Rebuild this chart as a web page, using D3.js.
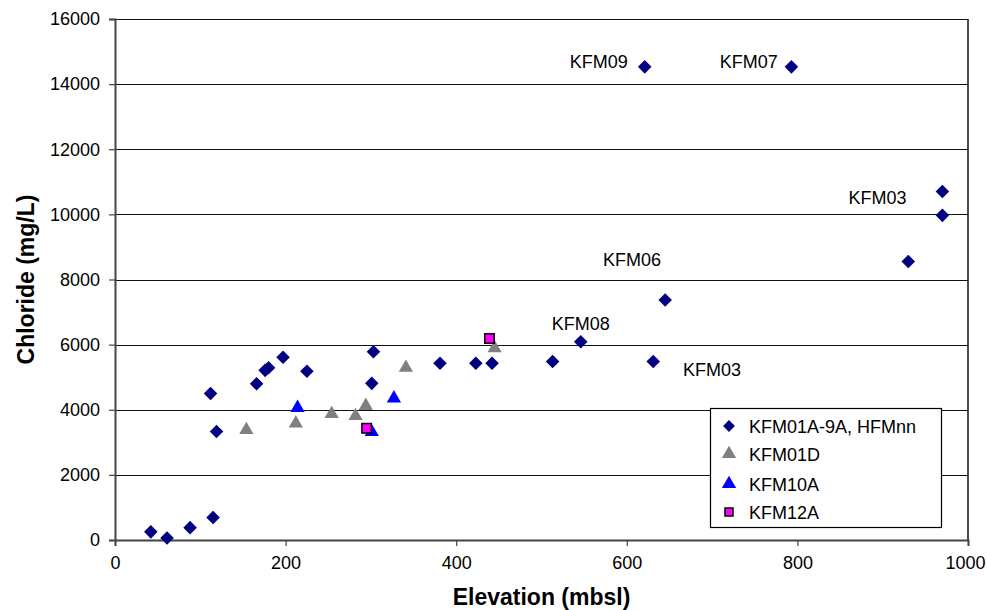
<!DOCTYPE html>
<html>
<head>
<meta charset="utf-8">
<script src="https://cdn.jsdelivr.net/npm/d3@7"></script>
<style>
    body { margin: 0; background: #fff; }
    text { font-family: Arial, "Liberation Sans", sans-serif; fill: #000; }
</style>
</head>
<body>
<div id="chart"></div>
<script>
// elevation (mbsl) / chloride (mg/L) per series
const kfmX = [42, 61, 88, 115, 112, 119, 166, 176, 180, 197, 225, 303, 301, 381, 423, 442, 513, 546, 631, 645, 970, 970, 930, 621, 793];
const kfmY = [250, 60, 380, 690, 4500, 3330, 4800, 5210, 5290, 5610, 5180, 5780, 4810, 5430, 5430, 5430, 5480, 6090, 5480, 7370, 10700, 9970, 8550, 14530, 14530];
const d01X = [154, 212, 254, 282, 294, 341, 445];
const d01Y = [3380, 3580, 3870, 3810, 4120, 5290, 5890];
const a10X = [214, 327, 301];
const a10Y = [4060, 4350, 3320];
const a12X = [295, 439];
const a12Y = [3430, 6190];

const labelText = ['KFM09', 'KFM07', 'KFM03', 'KFM06', 'KFM08', 'KFM03'];
const labelX = [533, 709, 860, 572, 512, 666];
const labelY = [14500, 14500, 10330, 8400, 6460, 5040];

const xTicks = [0, 200, 400, 600, 800, 1000];
const yTicks = [0, 2000, 4000, 6000, 8000, 10000, 12000, 14000, 16000];

const W = 987, H = 610;
const margin = {top: 19, right: 19, bottom: 70, left: 115};
const width = W - margin.left - margin.right;
const height = H - margin.top - margin.bottom;

const svg = d3.select('#chart').append('svg')
    .attr('width', W)
    .attr('height', H);

const g = svg.append('g')
    .attr('transform', 'translate(' + margin.left + ',' + margin.top + ')');

const x = d3.scaleLinear().domain([0, 1000]).range([0, width]);
const y = d3.scaleLinear().domain([0, 16000]).range([height, 0]);

// grid lines
g.append('g')
    .selectAll('line')
    .data(yTicks.filter(d => d > 0))
    .enter().append('line')
    .attr('x1', 0).attr('x2', width)
    .attr('y1', d => Math.round(y(d)) + 0.5).attr('y2', d => Math.round(y(d)) + 0.5)
    .attr('stroke', '#111')
    .attr('stroke-width', 1.2);

// right border
g.append('line')
    .attr('x1', width).attr('x2', width)
    .attr('y1', y(16000)).attr('y2', height)
    .attr('stroke', '#111')
    .attr('stroke-width', 1.5);

// axes
const xAxis = g.append('g')
    .attr('transform', 'translate(0,' + height + ')')
    .call(d3.axisBottom(x).tickValues(xTicks).tickFormat(d3.format('d')).tickSize(6).tickPadding(10));
const yAxis = g.append('g')
    .call(d3.axisLeft(y).tickValues(yTicks).tickFormat(d3.format('d')).tickSize(6).tickPadding(9));

[xAxis, yAxis].forEach(a => {
    a.select('.domain').attr('stroke', '#444').attr('stroke-width', 2);
    a.selectAll('.tick line').attr('stroke', '#444').attr('stroke-width', 1.2);
    a.selectAll('.tick text')
        .attr('font-size', 18)
        .attr('font-family', 'Arial, "Liberation Sans", sans-serif')
        .attr('fill', '#000');
});
// keep the last x label inside the page
xAxis.selectAll('.tick text').filter(d => d === 1000).attr('dx', -3);

// axis titles
svg.append('text')
    .attr('x', margin.left + width / 2)
    .attr('y', 605)
    .attr('text-anchor', 'middle')
    .attr('font-size', 23)
    .attr('font-weight', 'bold')
    .text('Elevation (mbsl)');

svg.append('text')
    .attr('transform', 'translate(34,' + (margin.top + height / 2) + ') rotate(-90)')
    .attr('text-anchor', 'middle')
    .attr('font-size', 23)
    .attr('font-weight', 'bold')
    .text('Chloride (mg/L)');

const diamond = d3.symbol().type(d3.symbolSquare).size(92);
const triangle = d3.symbol().type(d3.symbolTriangle).size(88);
const square = d3.symbol().type(d3.symbolSquare).size(90);

function drawSeries(xs, ys, sym, fill, stroke, rotate) {
    g.append('g')
        .selectAll('path')
        .data(xs.map((v, i) => ({x: v, y: ys[i]})))
        .enter().append('path')
        .attr('d', sym)
        .attr('transform', d => 'translate(' + x(d.x) + ',' + y(d.y) + ')' + (rotate ? ' rotate(45)' : ''))
        .attr('fill', fill)
        .attr('stroke', stroke || 'none')
        .attr('stroke-width', stroke ? 1.5 : 0);
}

drawSeries(kfmX, kfmY, diamond, '#000080', null, true);
drawSeries(d01X, d01Y, triangle, '#808080', null, false);
drawSeries(a10X, a10Y, triangle, '#0000ff', null, false);
drawSeries(a12X, a12Y, square, '#ff00ff', '#000', false);

// point labels
g.append('g')
    .selectAll('text')
    .data(labelText.map((t, i) => ({t: t, x: labelX[i], y: labelY[i]})))
    .enter().append('text')
    .attr('x', d => x(d.x))
    .attr('y', d => y(d.y))
    .attr('font-size', 18)
    .text(d => d.t);

// legend
const legendNames = ['KFM01A-9A, HFMnn', 'KFM01D', 'KFM10A', 'KFM12A'];
const legendRowY = [426, 454, 484, 512];
const legend = svg.append('g');
legend.append('rect')
    .attr('x', 710.5).attr('y', 408.5)
    .attr('width', 231).attr('height', 119)
    .attr('fill', '#fff')
    .attr('stroke', '#000')
    .attr('stroke-width', 1.2);

const legendSyms = [
    {sym: d3.symbol().type(d3.symbolSquare).size(70), fill: '#000080', stroke: null, rot: true},
    {sym: triangle, fill: '#808080', stroke: null, rot: false},
    {sym: triangle, fill: '#0000ff', stroke: null, rot: false},
    {sym: d3.symbol().type(d3.symbolSquare).size(64), fill: '#ff00ff', stroke: '#000', rot: false}
];
legendNames.forEach((name, i) => {
    const s = legendSyms[i];
    legend.append('path')
        .attr('d', s.sym())
        .attr('transform', 'translate(729,' + legendRowY[i] + ')' + (s.rot ? ' rotate(45)' : ''))
        .attr('fill', s.fill)
        .attr('stroke', s.stroke || 'none')
        .attr('stroke-width', s.stroke ? 1.5 : 0);
    legend.append('text')
        .attr('x', 749)
        .attr('y', legendRowY[i] + 6.5)
        .attr('font-size', 18)
        .text(name);
});
</script>
</body>
</html>
